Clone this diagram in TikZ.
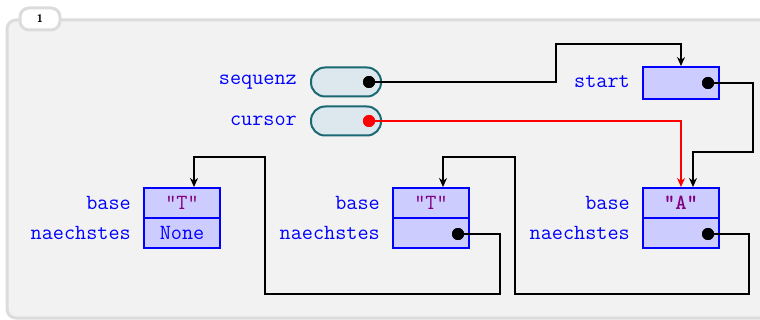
\documentclass[tikz,border=0pt]{standalone}
\usetikzlibrary{arrows.meta,calc}
\definecolor{framebg}{HTML}{F2F2F2}
\definecolor{framedraw}{HTML}{DCDCDC}
\definecolor{pillfill}{HTML}{DCE8EE}
\definecolor{pilldraw}{HTML}{1A6872}
\definecolor{boxfill}{HTML}{CCCCFF}
\definecolor{boxdraw}{HTML}{0000FF}
\definecolor{strcol}{HTML}{800080}
\begin{document}
\begin{tikzpicture}[x=1pt,y=-1pt,
  lbl/.style={anchor=east,inner sep=0pt,text=boxdraw,font=\fontsize{21.6}{24}\selectfont\ttfamily},
  pill/.style={draw=pilldraw,fill=pillfill,line width=2pt,rounded corners=14pt,minimum width=70pt,minimum height=29pt,inner sep=0pt},
  cell/.style={draw=boxdraw,fill=boxfill,line width=2pt,minimum width=76pt,minimum height=30pt,inner sep=0pt,font=\fontsize{21.6}{24}\selectfont\ttfamily},
  dot/.style={circle,fill=black,inner sep=0pt,minimum size=12pt},
  ptr/.style={line width=1.4pt,-{Stealth[length=9pt,width=8pt]}}]
\clip (0,0) rectangle (760,320);
\fill[white] (0,0) rectangle (760,320);
% frame
\draw[rounded corners=9pt,fill=framebg,draw=framedraw,line width=3pt] (7,20) rectangle (790,318);
\node[draw=framedraw,fill=white,line width=3pt,rounded corners=9pt,minimum width=40pt,minimum height=22pt,inner sep=0pt,font=\sffamily\fontsize{11}{13}\selectfont\bfseries] (tab) at (40,19) {1};
% variables
\node[lbl] (lseq) at (297,82) {sequenz};
\node[pill] (pseq) at (346,82) {};
\node[dot] (dseq) at (369,82) {};
\node[lbl] (lcur) at (297,121) {cursor};
\node[pill] (pcur) at (346,121) {};
\node[dot,fill=red] (dcur) at (369,121) {};
% start
\node[lbl] (lstart) at (630,82) {start};
\node[cell,minimum height=32pt] (start) at (681,83) {};
\node[dot] (dstart) at (708,83) {};
% node A
\node[cell] (abase) at (681,203) {\textcolor{strcol}{\bfseries"A"}};
\node[cell] (anext) at (681,233) {};
\node[dot] (danext) at (708,234) {};
\node[lbl] (labaseA) at (630,203) {base};
\node[lbl] (lanextA) at (630,233) {naechstes};
% node T middle
\node[cell] (tbase) at (431,203) {\textcolor{strcol}{"T"}};
\node[cell] (tnext) at (431,233) {};
\node[dot] (dtnext) at (458,234) {};
\node[lbl] (lbaseT) at (380,203) {base};
\node[lbl] (lnextT) at (380,233) {naechstes};
% node T first
\node[cell] (fbase) at (182,203) {\textcolor{strcol}{"T"}};
\node[cell,text=boxdraw] (fnext) at (182,233) {None};
\node[lbl] (lbaseF) at (131,203) {base};
\node[lbl] (lnextF) at (131,233) {naechstes};
% connectors
\coordinate (c1) at (556,44);
\draw[ptr] (dseq.center) -| (c1) -| (start.north);
\coordinate (c2) at (753,152);
\coordinate (aIn) at ($(abase.north)+(12,0)$);
\draw[ptr] (dstart.center) -| (c2) -| (aIn);
\draw[ptr,red] (dcur.center) -| (abase.north);
\coordinate (c3) at (500,294);
\coordinate (c4) at (265,157);
\coordinate (fIn) at ($(fbase.north)+(12,0)$);
\draw[ptr] (dtnext.center) -| (c3) -| (c4) -| (fIn);
\coordinate (c5) at (749,294);
\coordinate (c6) at (515,157);
\coordinate (tIn) at ($(tbase.north)+(12,0)$);
\draw[ptr] (danext.center) -| (c5) -| (c6) -| (tIn);
% redraw dots on top
\node[dot] at (dseq) {};
\node[dot,fill=red] at (dcur) {};
\node[dot] at (dstart) {};
\node[dot] at (danext) {};
\node[dot] at (dtnext) {};
\end{tikzpicture}
\end{document}
